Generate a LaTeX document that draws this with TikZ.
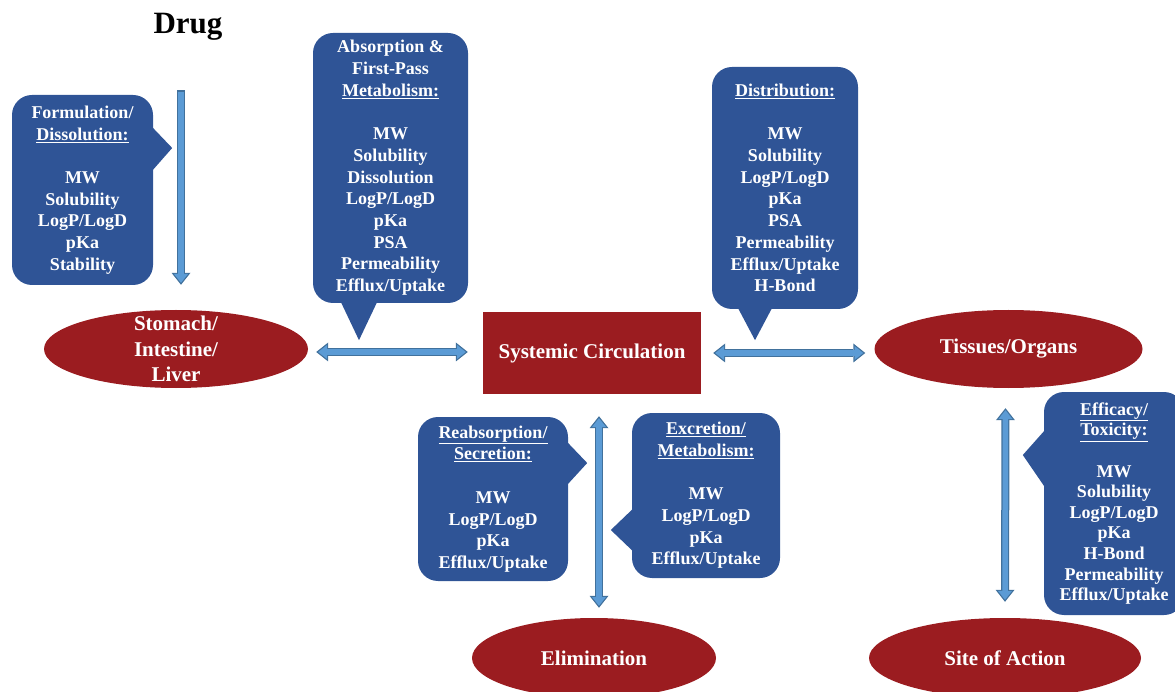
\documentclass[tikz,border=0pt]{standalone}
\usepackage{fontspec}
\setmainfont{Liberation Serif}
\usetikzlibrary{shapes.geometric,arrows.meta}
\definecolor{boxblue}{RGB}{47,84,150}
\definecolor{organred}{RGB}{155,28,32}
\definecolor{flowfill}{RGB}{91,155,213}
\definecolor{flowedge}{RGB}{65,113,156}
\tikzset{
  outtip/.tip={Triangle[length=12pt 0,width=19pt 0,line width=0pt 0]},
  intip/.tip={Triangle[length=8.8pt 0,width=13.9pt 0,line width=0pt 0]}
}
\begin{document}
\begin{tikzpicture}[x=1pt,y=-1pt,
    callout/.style={fill=boxblue,rounded corners=20pt,text=white,align=center,inner sep=0pt,
      font=\fontsize{18}{21.7}\selectfont\bfseries},
    organ/.style={ellipse,fill=organred,text=white,align=center,inner sep=0pt,
      font=\fontsize{21}{25.5}\selectfont\bfseries},
    flowout/.style={line width=8pt,draw=flowedge},
    flowin/.style={line width=5.5pt,draw=flowfill,shorten <=2pt,shorten >=2pt}]
    \useasboundingbox (0,0) rectangle (1175,692);
    \node [font=\fontsize{31}{36}\selectfont\bfseries] (drug) at (188,27) {Drug};
    \node [organ,inner ysep=-14pt,minimum width=264,minimum height=78] (stomach) at (176,349) {Stomach/\\Intestine/\\Liver};
    \node [fill=organred,text=white,inner sep=0pt,minimum width=218,minimum height=82,
      font=\fontsize{21}{25.5}\selectfont\bfseries] (sys) at (592,353) {Systemic Circulation};
    \node [organ,minimum width=268,minimum height=78] (tissues) at (1008.5,349) {Tissues/Organs};
    \node [organ,minimum width=244,minimum height=80] (elim) at (594,658) {Elimination};
    \node [organ,minimum width=272,minimum height=80] (site) at (1005,658) {Site of Action};
    \node [callout,minimum width=141,minimum height=190] (form) at (82.5,190)
      {Formulation/\\\underline{Dissolution:}\\[21.7pt]MW\\Solubility\\LogP/LogD\\pKa\\Stability};
    \fill [boxblue] ([shift={(-3,-65)}]form.east) -- ([shift={(19,-42)}]form.east) -- ([shift={(-3,-17)}]form.east) -- cycle;
    \node [callout,minimum width=155,minimum height=270] (absorb) at (390.5,168)
      {Absorption \&\\First-Pass\\\underline{Metabolism:}\\[21.7pt]MW\\Solubility\\Dissolution\\LogP/LogD\\pKa\\PSA\\Permeability\\Efflux/Uptake};
    \fill [boxblue] ([shift={(-50.5,-3)}]absorb.south) -- ([shift={(-31.5,37)}]absorb.south) -- ([shift={(-12.5,-3)}]absorb.south) -- cycle;
    \node [callout,minimum width=146,minimum height=242] (distrib) at (785,188)
      {\underline{Distribution:}\\[21.5pt]MW\\Solubility\\LogP/LogD\\pKa\\PSA\\Permeability\\Efflux/Uptake\\H-Bond};
    \fill [boxblue] ([shift={(-48,-3)}]distrib.south) -- ([shift={(-30,31)}]distrib.south) -- ([shift={(-12,-3)}]distrib.south) -- cycle;
    \node [callout,minimum width=150,minimum height=164] (reabs) at (493,499)
      {\underline{Reabsorption/}\\\underline{Secretion:}\\[21.7pt]MW\\LogP/LogD\\pKa\\Efflux/Uptake};
    \fill [boxblue] ([shift={(-3,-59)}]reabs.east) -- ([shift={(19,-36)}]reabs.east) -- ([shift={(-3,-12)}]reabs.east) -- cycle;
    \node [callout,minimum width=148,minimum height=165] (excr) at (706,495.5)
      {\underline{Excretion/}\\\underline{Metabolism:}\\[21.7pt]MW\\LogP/LogD\\pKa\\Efflux/Uptake};
    \fill [boxblue] ([shift={(3,11.5)}]excr.west) -- ([shift={(-21,34.5)}]excr.west) -- ([shift={(3,57.5)}]excr.west) -- cycle;
    \node [callout,minimum width=140,minimum height=223,font=\fontsize{18}{20.6}\selectfont\bfseries] (effic) at (1114,503.5)
      {\underline{Efficacy/}\\\underline{Toxicity:}\\[20.6pt]MW\\Solubility\\LogP/LogD\\pKa\\H-Bond\\Permeability\\Efflux/Uptake};
    \fill [boxblue] ([shift={(3,-75.5)}]effic.west) -- ([shift={(-21,-48.5)}]effic.west) -- ([shift={(3,-13.5)}]effic.west) -- cycle;
    \draw [flowout,-outtip] ([shift={(-7,46)}]drug.south) -- ([shift={(5,-25)}]stomach.north);
    \draw [flowin,-intip] ([shift={(-7,46)}]drug.south) -- ([shift={(5,-25)}]stomach.north);
    \draw [flowout,outtip-outtip] ([shift={(8,3)}]stomach.east) -- ([shift={(-15,-1)}]sys.west);
    \draw [flowin,intip-intip] ([shift={(8,3)}]stomach.east) -- ([shift={(-15,-1)}]sys.west);
    \draw [flowout,outtip-outtip] ([xshift=12pt]sys.east) -- ([shift={(-9,4)}]tissues.west);
    \draw [flowin,intip-intip] ([xshift=12pt]sys.east) -- ([shift={(-9,4)}]tissues.west);
    \draw [flowout,outtip-outtip] ([shift={(7,22)}]sys.south) -- ([shift={(5,-10)}]elim.north);
    \draw [flowin,intip-intip] ([shift={(7,22)}]sys.south) -- ([shift={(5,-10)}]elim.north);
    \draw [flowout,outtip-outtip] ([shift={(-3,20)}]tissues.south) -- ([shift={(0,-16)}]site.north);
    \draw [flowin,intip-intip] ([shift={(-3,20)}]tissues.south) -- ([shift={(0,-16)}]site.north);
\end{tikzpicture}
\end{document}
